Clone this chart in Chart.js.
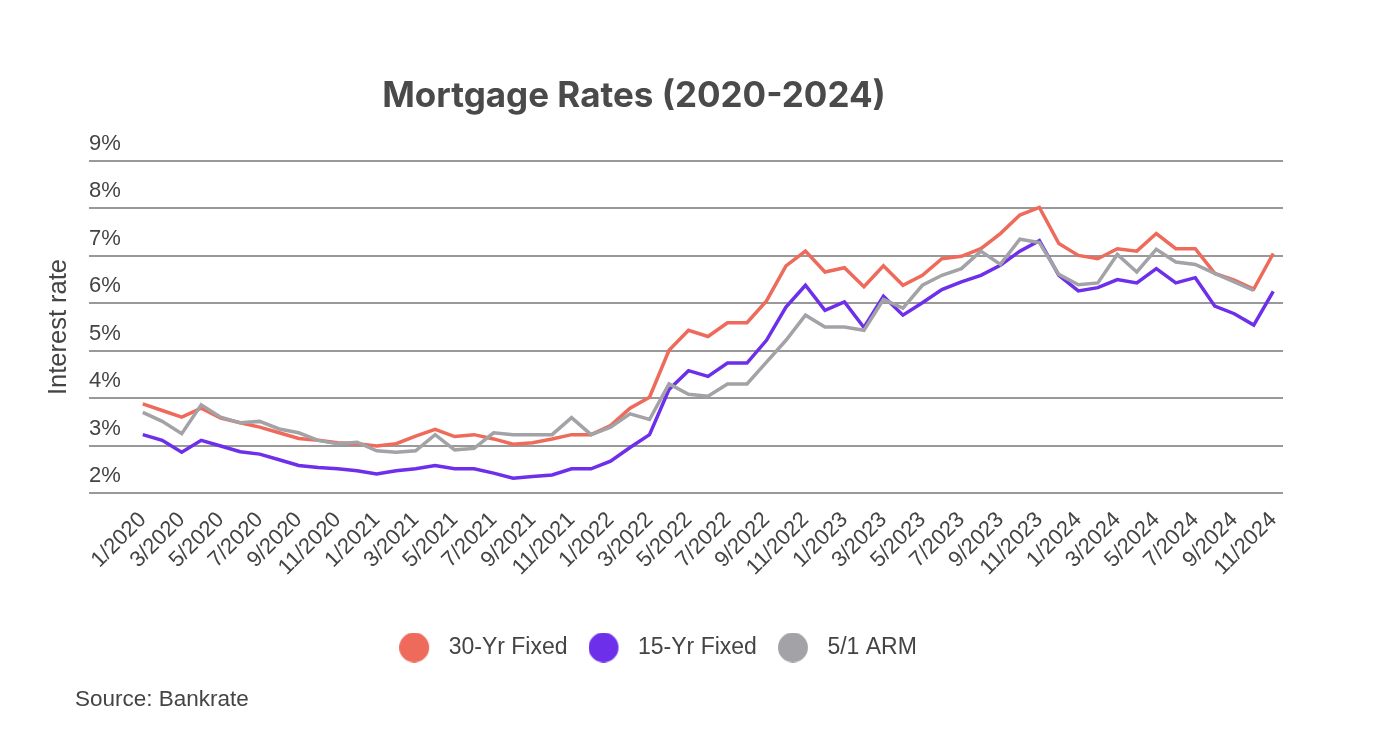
<!DOCTYPE html>
<html lang="en">

<head>
    <meta charset="UTF-8">
    <title>Mortgage Rates (2020-2024)</title>
    <script src="https://cdn.jsdelivr.net/npm/chart.js"></script>
    <style>
        body { margin: 0; background: #fff; }
        .wrap { position: relative; width: 1400px; height: 738px; overflow: hidden; }
        #chart { position: absolute; left: 0; top: 0; }
        #title {
            position: absolute; left: 234px; width: 800px; top: 77px;
            text-align: center; font: 700 35px/35px Inter, "Liberation Sans", sans-serif; color: #4a4a4a;
        }
        #source {
            position: absolute; left: 75px; top: 688px;
            font: 22.5px/22.5px "Liberation Sans", Arial, sans-serif; color: #444;
        }
    </style>
</head>

<body>
    <div class="wrap">
        <canvas id="chart" width="1400" height="738"></canvas>
        <div id="title">Mortgage Rates (2020-2024)</div>
        <div id="source">Source: Bankrate</div>
    </div>

    <script>
        // months 1/2020 .. 11/2024
        const months = [
            '1/2020', '2/2020', '3/2020', '4/2020', '5/2020', '6/2020', '7/2020', '8/2020', '9/2020', '10/2020', '11/2020', '12/2020',
            '1/2021', '2/2021', '3/2021', '4/2021', '5/2021', '6/2021', '7/2021', '8/2021', '9/2021', '10/2021', '11/2021', '12/2021',
            '1/2022', '2/2022', '3/2022', '4/2022', '5/2022', '6/2022', '7/2022', '8/2022', '9/2022', '10/2022', '11/2022', '12/2022',
            '1/2023', '2/2023', '3/2023', '4/2023', '5/2023', '6/2023', '7/2023', '8/2023', '9/2023', '10/2023', '11/2023', '12/2023',
            '1/2024', '2/2024', '3/2024', '4/2024', '5/2024', '6/2024', '7/2024', '8/2024', '9/2024', '10/2024', '11/2024'
        ];

        const fixed30 = [
            3.88, 3.74, 3.60, 3.79, 3.58, 3.48, 3.39, 3.27, 3.15, 3.11, 3.06, 3.04,
            2.99, 3.04, 3.20, 3.34, 3.19, 3.23, 3.14, 3.03, 3.06, 3.14, 3.23, 3.23,
            3.42, 3.79, 4.02, 5.01, 5.43, 5.30, 5.59, 5.59, 6.05, 6.79, 7.10, 6.66,
            6.75, 6.35, 6.79, 6.38, 6.59, 6.94, 6.99, 7.15, 7.47, 7.86, 8.02, 7.26,
            7.01, 6.94, 7.15, 7.10, 7.47, 7.15, 7.15, 6.63, 6.49, 6.30, 7.05
        ];

        const fixed15 = [
            3.23, 3.11, 2.86, 3.11, 2.99, 2.87, 2.82, 2.70, 2.58, 2.54, 2.51, 2.47,
            2.40, 2.47, 2.51, 2.58, 2.51, 2.51, 2.42, 2.31, 2.35, 2.38, 2.51, 2.51,
            2.67, 2.96, 3.23, 4.18, 4.58, 4.46, 4.74, 4.74, 5.22, 5.92, 6.38, 5.85,
            6.03, 5.49, 6.15, 5.75, 6.01, 6.29, 6.45, 6.59, 6.80, 7.10, 7.32, 6.59,
            6.26, 6.33, 6.50, 6.43, 6.73, 6.43, 6.54, 5.94, 5.78, 5.54, 6.25
        ];

        const arm51 = [
            3.70, 3.51, 3.25, 3.86, 3.60, 3.48, 3.51, 3.35, 3.27, 3.11, 3.04, 3.07,
            2.89, 2.86, 2.89, 3.23, 2.91, 2.94, 3.27, 3.23, 3.23, 3.23, 3.59, 3.23,
            3.39, 3.67, 3.55, 4.30, 4.08, 4.04, 4.30, 4.30, 4.76, 5.22, 5.75, 5.50,
            5.50, 5.43, 6.08, 5.90, 6.38, 6.59, 6.73, 7.10, 6.82, 7.35, 7.28, 6.61,
            6.39, 6.43, 7.03, 6.66, 7.14, 6.87, 6.82, 6.63, 6.45, 6.27, null
        ];

        const seriesNames = ['30-Yr Fixed', '15-Yr Fixed', '5/1 ARM'];
        const seriesColors = ['#ee6a5b', '#6d2fe9', '#a2a2a7'];
        const yMin = 2, yMax = 9;

        const font = '"Liberation Sans", Arial, sans-serif';
        const textColor = '#444';

        // legend marker: circle with room to its right, so the text sits further away
        function legendDot(color) {
            const c = document.createElement('canvas');
            c.width = 38;
            c.height = 30;
            const g = c.getContext('2d');
            g.fillStyle = color;
            g.beginPath();
            g.arc(15, 15, 15, 0, Math.PI * 2);
            g.fill();
            return c;
        }

        // original legend sits a bit left of the plot centre
        const shiftLegend = {
            id: 'shiftLegend',
            afterLayout(chart) {
                chart.legend.left -= 28;
                chart.legend.right -= 28;
            }
        };

        const seriesData = [fixed30, fixed15, arm51];

        new Chart(document.getElementById('chart'), {
            type: 'line',
            data: {
                labels: months,
                datasets: seriesData.map((d, i) => ({
                    label: seriesNames[i],
                    data: d,
                    borderColor: seriesColors[i],
                    backgroundColor: seriesColors[i],
                    borderWidth: 3.5,
                    pointRadius: 0,
                    pointHoverRadius: 0,
                    pointStyle: legendDot(seriesColors[i]),
                    tension: 0,
                    order: 3 - i
                }))
            },
            options: {
                responsive: false,
                animation: false,
                layout: { padding: { left: 89, right: 117, top: 161, bottom: 69 } },
                scales: {
                    x: {
                        offset: true,
                        grid: { display: false, drawTicks: false },
                        border: { display: false },
                        ticks: {
                            autoSkip: false,
                            minRotation: 45,
                            maxRotation: 45,
                            padding: 14,
                            color: textColor,
                            font: { family: font, size: 22 },
                            callback: (v, i) => i % 2 === 0 ? months[i] : ''
                        },
                        afterFit: s => { s.height = 122; }
                    },
                    y: {
                        min: yMin,
                        max: yMax,
                        grid: { color: '#999', lineWidth: 2, tickLength: 44 },
                        border: { display: false },
                        ticks: {
                            stepSize: 1,
                            crossAlign: 'far',
                            labelOffset: -17,
                            padding: 0,
                            color: textColor,
                            font: { family: font, size: 22 },
                            callback: v => v + '%'
                        },
                        title: {
                            display: true,
                            text: 'Interest rate',
                            color: textColor,
                            font: { family: font, size: 25.5 },
                            padding: { top: -45, bottom: 0 }
                        },
                        afterFit: s => { s.width = 44; }
                    }
                },
                plugins: {
                    legend: {
                        position: 'bottom',
                        labels: {
                            usePointStyle: true,
                            pointStyleWidth: 38,
                            boxHeight: 23,
                            padding: 21,
                            color: textColor,
                            font: { family: font, size: 23 },
                            sort: (a, b) => a.datasetIndex - b.datasetIndex
                        }
                    },
                    tooltip: { enabled: false }
                }
            },
            plugins: [shiftLegend]
        });
    </script>
</body>

</html>
